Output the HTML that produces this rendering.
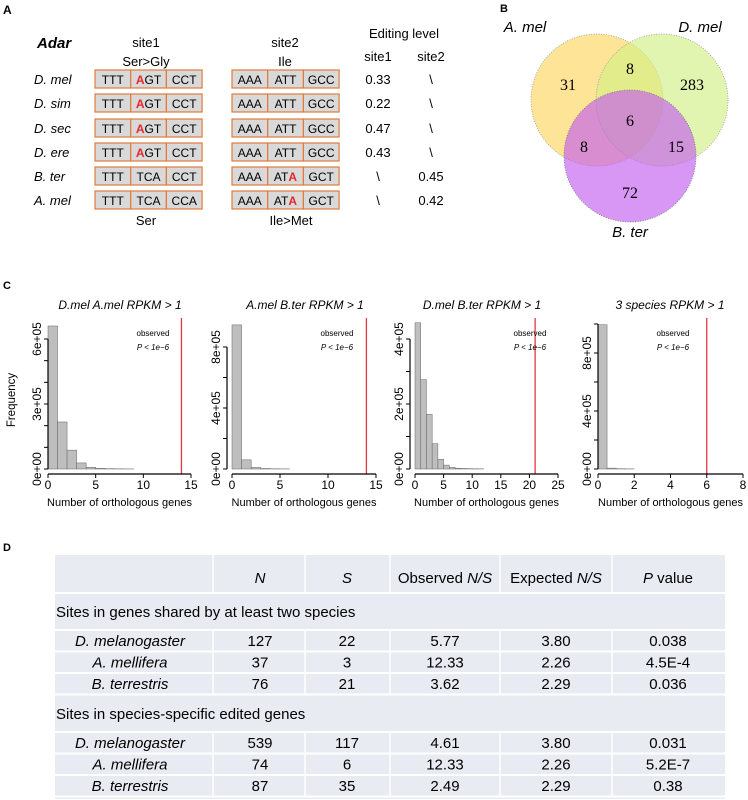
<!DOCTYPE html>
<html><head><meta charset="utf-8"><style>
body{margin:0;background:#fff;}
svg{display:block;font-family:"Liberation Sans",sans-serif;}
</style></head><body>
<svg id="fig" width="748" height="800" viewBox="0 0 748 800">
<!-- Panel A -->
<g id="panelA">
<text x="3" y="14" font-size="12" font-weight="bold">A</text>
<text x="37" y="48" font-size="15" font-weight="bold" font-style="italic">Adar</text>
<text x="146" y="47" font-size="13" text-anchor="middle">site1</text>
<text x="146" y="66" font-size="13" text-anchor="middle">Ser&gt;Gly</text>
<text x="285" y="47" font-size="13" text-anchor="middle">site2</text>
<text x="285" y="66" font-size="13" text-anchor="middle">Ile</text>
<text x="404" y="38" font-size="13" text-anchor="middle">Editing level</text>
<text x="378" y="61" font-size="13" text-anchor="middle">site1</text>
<text x="431" y="61" font-size="13" text-anchor="middle">site2</text>
<text x="146" y="225" font-size="13" text-anchor="middle">Ser</text>
<text x="291" y="225" font-size="13" text-anchor="middle">Ile&gt;Met</text>
<g id="seqRows"></g>
</g>
<!-- Panel B -->
<g id="panelB">
<text x="500" y="12" font-size="11" font-weight="bold">B</text>
<circle cx="597" cy="100" r="66" fill="#fed96a" fill-opacity="0.7" stroke="#999" stroke-dasharray="1,1.5" stroke-width="0.8"/>
<circle cx="662" cy="100" r="66" fill="#d3ef85" fill-opacity="0.65" stroke="#999" stroke-dasharray="1,1.5" stroke-width="0.8"/>
<circle cx="630" cy="156" r="66" fill="#c35ef0" fill-opacity="0.65" stroke="#777" stroke-dasharray="1,1.5" stroke-width="0.8"/>
<g font-family="Liberation Serif,serif" font-size="16" text-anchor="middle">
<text x="568" y="90">31</text>
<text x="630" y="74">8</text>
<text x="692" y="90">283</text>
<text x="630" y="126">6</text>
<text x="584" y="152">8</text>
<text x="676" y="152">15</text>
<text x="630" y="198">72</text>
</g>
<g font-size="15" font-style="italic" text-anchor="middle">
<text x="525" y="32">A. mel</text>
<text x="700" y="32">D. mel</text>
<text x="630" y="237">B. ter</text>
</g>
</g>
<!-- Panel C -->
<g id="panelC">
<text x="3" y="289" font-size="11" font-weight="bold">C</text>
<text transform="translate(15,400) rotate(-90)" font-size="11.5" text-anchor="middle">Frequency</text>
</g>
<!-- Panel D -->
<g id="panelD">
<text x="3" y="551" font-size="11" font-weight="bold">D</text>
</g>
</svg>
<script>
const NS="http://www.w3.org/2000/svg";
function mk(tag,attrs,parent,txt){const e=document.createElementNS(NS,tag);for(const k in attrs)e.setAttribute(k,attrs[k]);if(txt!==undefined)e.textContent=txt;parent.appendChild(e);return e;}

// ---------- Panel A data ----------
const species=["D. mel","D. sim","D. sec","D. ere","B. ter","A. mel"];
const site1Codons=[["TTT","AGT","CCT"],["TTT","AGT","CCT"],["TTT","AGT","CCT"],["TTT","AGT","CCT"],["TTT","TCA","CCT"],["TTT","TCA","CCA"]];
const site2Codons=[["AAA","ATT","GCC"],["AAA","ATT","GCC"],["AAA","ATT","GCC"],["AAA","ATT","GCC"],["AAA","ATA","GCT"],["AAA","ATA","GCT"]];
const edit1=["0.33","0.22","0.47","0.43","\\","\\"];
const edit2=["\\","\\","\\","\\","0.45","0.42"];
const rowsG=document.getElementById('seqRows');
const rowY=[79,103,128,152,176,200];
function codonGroup(x0,yc,codons,site){
  const g=mk('g',{},rowsG);
  
  
  codons.forEach((c,j)=>{
    const x=x0+j*35.7;
    mk('rect',{x:x,y:yc-9,width:35.7,height:18,fill:'#d9d9d9',stroke:'#e07b3c','stroke-width':1.2},g);
    const t=mk('text',{x:x+17.8,y:yc+5,'font-size':12,'text-anchor':'middle'},g);
    let red=-1;
    if(site==='site1'&&j===1&&c==='AGT')red=0;
    if(site==='site2'&&j===1&&c==='ATA')red=2;
    for(let k=0;k<3;k++){const s=mk('tspan',{},t,c[k]);if(k===red){s.setAttribute('fill','#e8262b');s.setAttribute('font-weight','bold');}}
  });
}
species.forEach((sp,i)=>{
  const y=rowY[i];
  const lab=mk('text',{x:34,y:y+5,'font-size':13,'font-style':'italic'},rowsG,sp);
  
  
  codonGroup(95,y,site1Codons[i],'site1');
  codonGroup(232,y,site2Codons[i],'site2');
  const e1=mk('text',{x:378,y:y+5,'font-size':13,'text-anchor':'middle'},rowsG,edit1[i]);
  
  
  const e2=mk('text',{x:431,y:y+5,'font-size':13,'text-anchor':'middle'},rowsG,edit2[i]);
  
  
});

// ---------- Panel C data ----------
const titles=["D.mel A.mel  RPKM > 1","A.mel B.ter  RPKM > 1","D.mel B.ter  RPKM > 1","3 species  RPKM > 1"];
const binEdges1=[0,1,2,3,4,5,6,7,8,9];
const counts1=[660000,217000,87000,28000,8000,3000,1500,1000,500];
const binEdges2=[0,1,2,3,4,5,6];
const counts2=[945000,60000,10000,3000,1500,800];
const binEdges3=[0,1,2,3,4,5,6,7,8,9,10,11,12];
const counts3=[450000,275000,168000,78000,30000,12000,5000,2500,1500,1000,700,500];
const binEdges4=[0,0.5,1,1.5,2];
const counts4=[995000,6000,2000,1000];
const observed=[14,14,21,6];
const xTicks1=[0,5,10,15],xTicks2=[0,5,10,15],xTicks3=[0,5,10,15,20,25],xTicks4=[0,2,4,6,8];
const yLabels1=[0,300000,600000],yLabels2=[0,400000,800000],yLabels3=[0,200000,400000],yLabels4=[0,400000,800000];
const yLabelText1=["0e+00","3e+05","6e+05"],yLabelText2=["0e+00","4e+05","8e+05"],yLabelText3=["0e+00","2e+05","4e+05"],yLabelText4=["0e+00","4e+05","8e+05"];
const yMinor1=[0,100000,200000,300000,400000,500000,600000];
const yMinor2=[0,200000,400000,600000,800000];
const yMinor3=[0,100000,200000,300000,400000];
const yMinor4=[0,200000,400000,600000,800000,1000000];

const layouts=[
 {ax:48,x0:48,xMax:15,xPx:143,y0:469,yMax:600000,yPx:130,xAxisY:474,titleX:120,obsX:153},
 {ax:227,x0:232,xMax:15,xPx:144,y0:469,yMax:800000,yPx:122,xAxisY:474,titleX:305,obsX:337},
 {ax:410,x0:415,xMax:25,xPx:143,y0:469,yMax:400000,yPx:130,xAxisY:474,titleX:482,obsX:530},
 {ax:598,x0:598,xMax:8,xPx:145,y0:469,yMax:800000,yPx:116,xAxisY:474,titleX:670,obsX:673}
];
const allEdges=[binEdges1,binEdges2,binEdges3,binEdges4];
const allCounts=[counts1,counts2,counts3,counts4];
const allXT=[xTicks1,xTicks2,xTicks3,xTicks4];
const allYL=[yLabels1,yLabels2,yLabels3,yLabels4];
const allYT=[yLabelText1,yLabelText2,yLabelText3,yLabelText4];
const allYM=[yMinor1,yMinor2,yMinor3,yMinor4];
const pc=document.getElementById('panelC');
layouts.forEach((L,p)=>{
  const g=mk('g',{},pc);
  
  
  const xs=v=>L.x0+v/L.xMax*L.xPx;
  const ys=v=>L.y0-v/L.yMax*L.yPx;
  const edges=allEdges[p],cnt=allCounts[p];
  cnt.forEach((c,i)=>{
    const r=mk('rect',{x:xs(edges[i]),y:ys(c),width:xs(edges[i+1])-xs(edges[i]),height:L.y0-ys(c),fill:'#bebebe',stroke:'#666','stroke-width':0.5},g);
    
    
  });
  const rl=mk('line',{x1:xs(observed[p]),x2:xs(observed[p]),y1:318,y2:474,stroke:'#e0383f','stroke-width':1.3},g);
  
  
  const xt=allXT[p];
  const xa=mk('line',{x1:xs(xt[0]),x2:xs(xt[xt.length-1]),y1:L.xAxisY,y2:L.xAxisY,stroke:'#000','stroke-width':1.2},g);
  
  
  xt.forEach(v=>{
    mk('line',{x1:xs(v),x2:xs(v),y1:L.xAxisY,y2:L.xAxisY+4,stroke:'#000'},g);
    const t=mk('text',{x:xs(v),y:L.xAxisY+15,'font-size':12,'text-anchor':'middle'},g,String(v));
    
    
  });
  const ym=allYM[p];
  const ya=mk('line',{x1:L.ax,x2:L.ax,y1:ys(ym[0]),y2:ys(ym[ym.length-1]),stroke:'#000','stroke-width':1.2},g);
  
  
  ym.forEach(v=>mk('line',{x1:L.ax-4,x2:L.ax,y1:ys(v),y2:ys(v),stroke:'#000'},g));
  allYL[p].forEach((v,i)=>{
    const t=mk('text',{transform:`translate(${L.ax-7},${ys(v)}) rotate(-90)`,'font-size':12,'text-anchor':'middle'},g,allYT[p][i]);
    
    
  });
  const tt=mk('text',{x:L.titleX,y:309,'font-size':12,'font-style':'italic','text-anchor':'middle'},g,titles[p]);
  
  
  const o1=mk('text',{x:L.obsX,y:336,'font-size':8,'text-anchor':'middle'},g,'observed');
  
  
  const o2=mk('text',{x:L.obsX,y:350,'font-size':8,'font-style':'italic','text-anchor':'middle'},g,'P < 1e−6');
  
  
  const xl=mk('text',{x:L.x0+L.xPx/2,y:506,'font-size':11,'text-anchor':'middle'},g,'Number of orthologous genes');
  
  
});

// ---------- Panel D table ----------
const colX=[55,213,305,390,500,612,725];
const cx=[130,260,347,445,556,668];
const pd=document.getElementById('panelD');
const bg=mk('rect',{x:55,y:555,width:670,height:244,fill:'#e8ebf2'},pd);


function cellLines(y0,y1){for(let c=1;c<6;c++)mk('line',{x1:colX[c],x2:colX[c],y1:y0,y2:y1,stroke:'#fff','stroke-width':1.5},pd);}
function hline(y){mk('line',{x1:55,x2:725,y1:y,y2:y,stroke:'#fff','stroke-width':2},pd);}
cellLines(555,593);hline(593);
const hy=583;
function htext(x,parts){const t=mk('text',{x:x,y:hy,'font-size':15,'text-anchor':'middle'},pd);parts.forEach(([s,it])=>{const sp=mk('tspan',{},t,s);if(it)sp.setAttribute('font-style','italic');});return t;}
htext(260,[["N",1]]);
htext(347,[["S",1]]);
htext(445,[["Observed ",0],["N/S",1]]);
htext(556,[["Expected ",0],["N/S",1]]);
htext(668,[["P",1],[" value",0]]);
const rowNames=["D. melanogaster","A. mellifera","B. terrestris"];
const Nshared=[127,37,76],Sshared=[22,3,21],obsShared=["5.77","12.33","3.62"],expShared=["3.80","2.26","2.29"],pShared=["0.038","4.5E-4","0.036"];
const Nspec=[539,74,87],Sspec=[117,6,35],obsSpec=["4.61","12.33","2.49"],expSpec=["3.80","2.26","2.29"],pSpec=["0.031","5.2E-7","0.38"];
function section(yTop,title,N,S,O,E,P){
  const st=mk('text',{x:56,y:yTop+24,'font-size':15},pd,title);
  
  
  hline(yTop+37);
  for(let i=0;i<3;i++){
    const y0=yTop+37+i*21.5;
    cellLines(y0,y0+21.5);
    hline(y0+21.5);
    const ty=y0+16;
    const vals=[rowNames[i],N[i],S[i],O[i],E[i],P[i]];
    vals.forEach((v,k)=>{
      const t=mk('text',{x:cx[k],y:ty,'font-size':15,'text-anchor':'middle'},pd,String(v));
      if(k===0)t.setAttribute('font-style','italic');
      
      
    });
  }
}
section(593,'Sites in genes shared by at least two species',Nshared,Sshared,obsShared,expShared,pShared);
section(695,'Sites in species-specific edited genes',Nspec,Sspec,obsSpec,expSpec,pSpec);
</script>
</body></html>
